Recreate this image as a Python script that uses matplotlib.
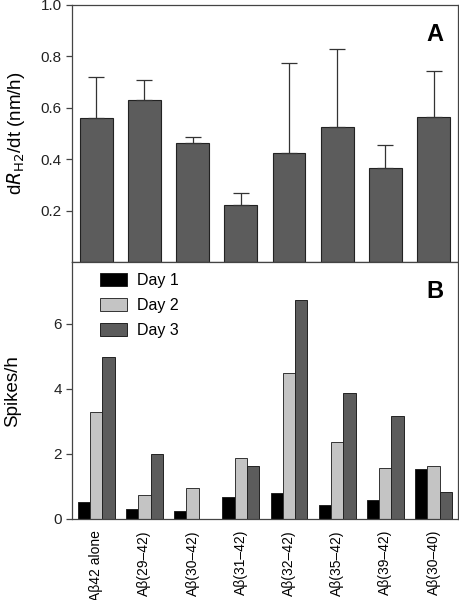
import numpy as np
import matplotlib
matplotlib.use("Agg")
import matplotlib.pyplot as plt

plt.rcParams['font.family'] = ['Liberation Sans', 'DejaVu Sans']

peptides = ['Aβ42 alone', 'Aβ(29–42)', 'Aβ(30–42)', 'Aβ(31–42)',
            'Aβ(32–42)', 'Aβ(35–42)', 'Aβ(39–42)', 'Aβ(30–40)']

# panel A: growth rate and upper error
rate = [0.56, 0.63, 0.463, 0.224, 0.423, 0.524, 0.365, 0.564]
rate_err = [0.159, 0.078, 0.023, 0.043, 0.35, 0.304, 0.089, 0.178]

# panel B: spikes per hour
day1 = [0.51, 0.30, 0.26, 0.67, 0.81, 0.43, 0.57, 1.54]
day2 = [3.28, 0.73, 0.94, 1.87, 4.49, 2.36, 1.57, 1.62]
day3 = [4.99, 2.0, 0.0, 1.64, 6.75, 3.89, 3.18, 0.84]

dark = '#5c5c5c'
light = '#c4c4c4'
spine_col = '#444444'

fig = plt.figure(figsize=(4.59, 6.0), dpi=100)
axA = fig.add_axes([0.157, 0.563, 0.84, 0.429])
axB = fig.add_axes([0.157, 0.135, 0.84, 0.428])

x = np.arange(len(peptides))

# ---- panel A
axA.bar(x, rate, width=0.68, color=dark, edgecolor='#222222', linewidth=0.8,
        yerr=[np.zeros(len(rate)), rate_err], ecolor='#333333',
        error_kw=dict(elinewidth=0.9, capsize=6, capthick=0.9))
axA.set_xlim(-0.5, 7.5)
axA.set_ylim(0, 1.0)
axA.set_yticks([0.2, 0.4, 0.6, 0.8, 1.0])
axA.set_yticklabels(['0.2', '0.4', '0.6', '0.8', '1.0'])
axA.set_xticks([])
axA.set_ylabel(r'd$\it{R}$$_{\rm H2}$/dt (nm/h)', fontsize=13.5, labelpad=10)
axA.text(0.963, 0.93, 'A', transform=axA.transAxes, ha='right', va='top',
         fontsize=17, fontweight='bold')

# ---- panel B
w = 0.255
axB.bar(x - w, day1, width=w, color='black', edgecolor='#222222',
        linewidth=0.7, label='Day 1')
axB.bar(x, day2, width=w, color=light, edgecolor='#333333',
        linewidth=0.7, label='Day 2')
axB.bar(x + w, day3, width=w, color=dark, edgecolor='#222222',
        linewidth=0.7, label='Day 3')
axB.set_xlim(-0.5, 7.5)
axB.set_ylim(0, 7.9)
axB.set_yticks([0, 2, 4, 6])
axB.set_xticks(x)
axB.set_xticklabels(peptides, rotation=90, fontsize=10)
axB.tick_params(axis='x', length=0, pad=8)
axB.set_ylabel('Spikes/h', fontsize=13.5, labelpad=23)
axB.text(0.963, 0.93, 'B', transform=axB.transAxes, ha='right', va='top',
         fontsize=17, fontweight='bold')
axB.legend(loc='upper left', bbox_to_anchor=(0.045, 1.0), frameon=False,
           fontsize=11.5, handlelength=1.7, handleheight=0.95,
           labelspacing=0.6, handletextpad=0.6, borderaxespad=0.25)

for ax in (axA, axB):
    for s in ax.spines.values():
        s.set_color(spine_col)
        s.set_linewidth(0.9)
    ax.tick_params(axis='y', labelsize=11, length=4, width=0.9,
                   color=spine_col, colors='#222222')

fig.savefig('out.png', dpi=100)
